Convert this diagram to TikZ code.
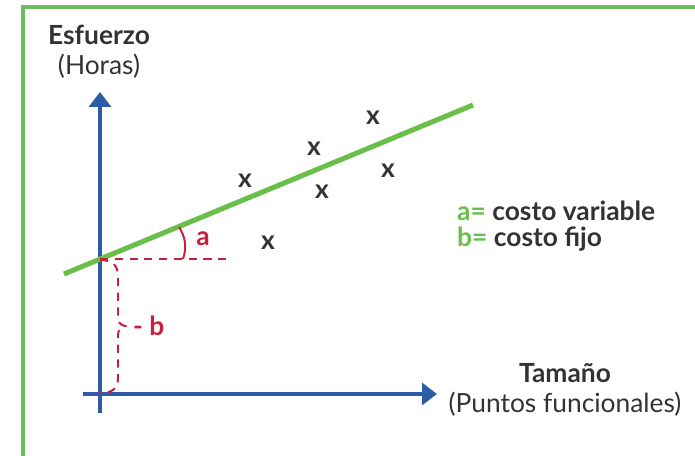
\documentclass[tikz,border=0pt]{standalone}
\usepackage{fontspec}
\setmainfont{Lato}
\usetikzlibrary{arrows.meta}
\definecolor{framegreen}{HTML}{6CBD5B}
\definecolor{fitgreen}{HTML}{6ABF4B}
\definecolor{axisblue}{HTML}{2E5BA6}
\definecolor{markred}{HTML}{C8203C}
\definecolor{textgray}{HTML}{333333}
\tikzset{
    frame/.style = {
        draw=framegreen,
        line width=2.6pt
    },
    axis/.style = {
        draw=axisblue,
        line width=2.6pt,
        -{Triangle[length=12.8pt, width=18.8pt]}
    },
    fitline/.style = {
        draw=fitgreen,
        line width=4.3pt
    },
    guide/.style = {
        draw=markred,
        line width=1.7pt,
        dash pattern=on 7pt off 5.6pt
    },
    anglemark/.style = {
        draw=markred,
        line width=1.7pt
    },
    title/.style = {
        text=textgray,
        align=center,
        font=\fontsize{22.5}{26}\selectfont
    },
    point/.style = {
        text=textgray,
        inner sep=0pt,
        font=\fontsize{22.5}{26}\selectfont\bfseries
    },
    redlabel/.style = {
        text=markred,
        inner sep=0pt,
        font=\fontsize{22.5}{26}\selectfont\bfseries
    },
    legend/.style = {
        text=textgray,
        anchor=west,
        inner sep=0pt,
        font=\fontsize{22.5}{26}\selectfont\bfseries
    },
}

\begin{document}
\begin{tikzpicture}[x=0.03cm, y=-0.03cm]
    \useasboundingbox (0,0) rectangle (695,456);

    % marco
    \path[frame] (23,456) -- (23,7) -- (695,7);

    % ejes
    \coordinate (ystart) at (100,413);
    \coordinate (ytip) at (100,92);
    \coordinate (xstart) at (83,394);
    \coordinate (xtip) at (437,394);
    \path[axis] (ystart) -- (ytip);
    \path[axis] (xstart) -- (xtip);

    \node[title] (ylabel) at (99,52) {\bfseries Esfuerzo\\(Horas)};
    \node[title] (xlabel) at (565,390) {\bfseries Tama\~no\\(Puntos funcionales)};

    % recta
    \coordinate (fitstart) at (64,274);
    \coordinate (fitend) at (473,105);
    \coordinate (intercept) at (100,259);
    \coordinate (guideend) at (229,259);
    \path[fitline] (fitstart) -- (fitend);
    \path[guide] (intercept) -- (guideend);

    % angulo a
    \coordinate (arcstart) at (179,227);
    \coordinate (arcend) at (183,259);
    \path[anglemark] (arcstart) to[bend left=25] (arcend);
    \node[redlabel] (alabel) at (203,239) {a};

    % llave b
    \coordinate (bracetop) at (100,260);
    \coordinate (bracetip) at (125,326);
    \coordinate (bracebot) at (100,393);
    \path[guide] (bracetop) .. controls (112,260) and (118,265) .. (118,276)
        -- (118,316) .. controls (118,322) and (120,325) .. (bracetip)
        .. controls (120,327) and (118,330) .. (118,336)
        -- (118,378) .. controls (118,389) and (112,393) .. (bracebot);
    \node[redlabel, anchor=west] (blabel) at (133,326) {- b};

    % datos
    \foreach \px/\py [count=\i] in {245/181, 314/149, 373/118, 388/171, 322/192, 268/243}
        \node[point] (pt\i) at (\px,\py) {x};

    % leyenda
    \node[legend] (leyA) at (457,211) {\textcolor{fitgreen}{a=} costo variable};
    \node[legend] (leyB) at (457,239) {\textcolor{fitgreen}{b=} costo fijo};
\end{tikzpicture}
\end{document}
